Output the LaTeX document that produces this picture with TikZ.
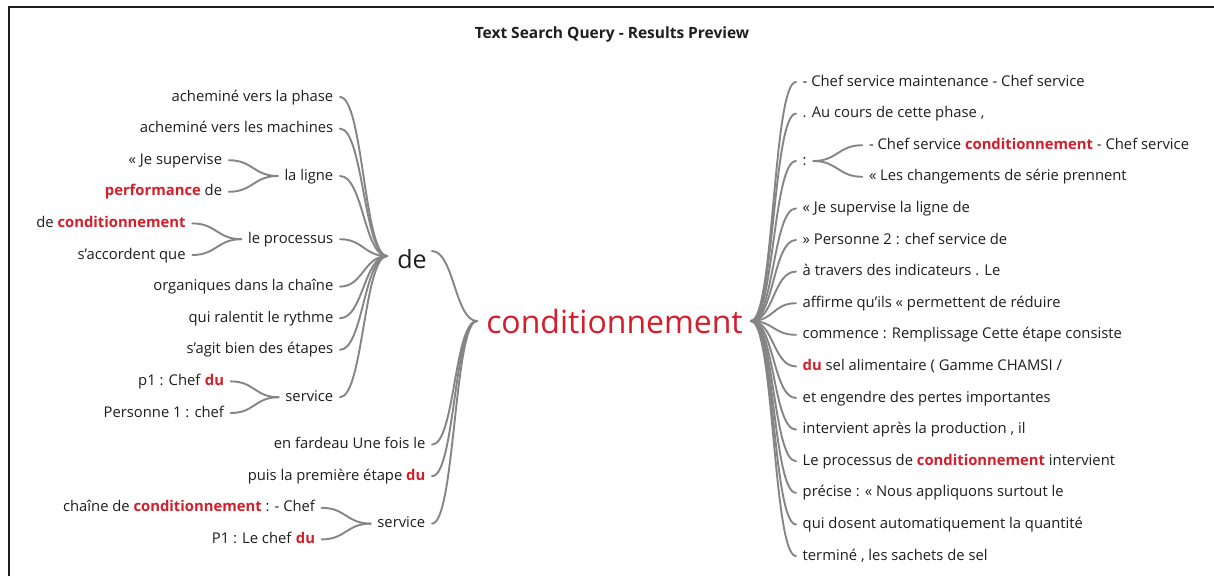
\documentclass[tikz,border=0pt]{standalone}
\usepackage{fontspec}
\setmainfont{Open Sans}
\usetikzlibrary{calc}
\definecolor{hit}{HTML}{D21F2B}
\definecolor{wire}{HTML}{858585}
\definecolor{ink}{HTML}{1E1E1E}
\newcommand{\hl}[1]{\textbf{\textcolor{hit}{#1}}}
% curved connector: horizontal tangents at both ends
\newcommand{\link}[3]{\draw[wirestyle] (#1) .. controls +(#3,0) and +(-#3,0) .. (#2);}

\begin{document}
\begin{tikzpicture}[x=1pt,y=-1pt,
  word/.style={font=\fontsize{14.8}{17}\selectfont, text=ink, inner xsep=6.5pt, inner ysep=0pt,
               text height=0.9em, text depth=0.1em},
  lword/.style={word, anchor=east},
  rword/.style={word, anchor=west},
  wirestyle/.style={draw=wire, line width=1.9pt, line cap=round},
]
\useasboundingbox (0,0) rectangle (1214,576);
\fill[white] (0,0) rectangle (1214,576);
\draw[ink, line width=1.3pt] (9,576) -- (9,7) -- (1214,7);

\node[font=\bfseries\fontsize{15.5}{18}\selectfont, text=ink] (title) at (612,34) {Text Search Query - Results Preview};

% root word
\node[font=\fontsize{32}{38}\selectfont, text=hit, inner sep=0pt, text height=0.75em, text depth=0.25em] (root) at (614.5,331) {conditionnement};
\coordinate (cL) at ($(root.west)+(-9,-10)$);
\coordinate (cR) at ($(root.east)+(8,-10)$);

% second level word
\node[font=\fontsize{25}{30}\selectfont, text=ink, inner sep=0pt, text height=0.75em, text depth=0.25em] (de) at (412,266) {de};
\coordinate (deL) at ($(de.west)+(-10,-10)$);
\coordinate (deR) at ($(de.east)+(5,-15)$);

% ---- left branches of "de"
\node[lword] (l1) at (340,97) {acheminé vers la phase};
\node[lword] (l2) at (340,128.6) {acheminé vers les machines};
\node[lword] (l3) at (340,176) {la ligne};
\node[lword] (l3a) at ($(l3.west)+(-49,-15.8)$) {« Je supervise};
\node[lword] (l3b) at ($(l3.west)+(-49,15.8)$) {\hl{performance} de};
\node[lword] (l4) at (340,239.2) {le processus};
\node[lword] (l4a) at ($(l4.west)+(-49,-15.8)$) {de \hl{conditionnement}};
\node[lword] (l4b) at ($(l4.west)+(-49,15.8)$) {s’accordent que};
\node[lword] (l5) at (340,286.6) {organiques dans la chaîne};
\node[lword] (l6) at (340,318.2) {qui ralentit le rythme};
\node[lword] (l7) at (340,349.8) {s’agit bien des étapes};
\node[lword] (l8) at (340,397.2) {service};
\node[lword] (l8a) at ($(l8.west)+(-48,-15.8)$) {p1 : Chef \hl{du}};
\node[lword] (l8b) at ($(l8.west)+(-48,15.8)$) {Personne 1 : chef};

% ---- left branches of the root
\node[lword] (m1) at (432,444.6) {en fardeau Une fois le};
\node[lword] (m2) at (432,476.2) {puis la première étape \hl{du}};
\node[lword] (m3) at (432,523.6) {service};
\node[lword] (m3a) at ($(m3.west)+(-49,-15.8)$) {chaîne de \hl{conditionnement} : - Chef};
\node[lword] (m3b) at ($(m3.west)+(-49,15.8)$) {P1 : Le chef \hl{du}};

% ---- right branches of the root
\node[rword] (r0) at (796,82) {- Chef service maintenance - Chef service};
\node[rword] (r1) at (796,113.6) {. Au cours de cette phase ,};
\node[rword] (rc) at (796,161) {:};
\node[rword] (rca) at ($(rc.east)+(49,-15.8)$) {- Chef service \hl{conditionnement} - Chef service};
\node[rword] (rcb) at ($(rc.east)+(49,15.8)$) {« Les changements de série prennent};
\node[rword] (r4) at (796,208.4) {« Je supervise la ligne de};
\node[rword] (r5) at (796,240) {» Personne 2 : chef service de};
\node[rword] (r6) at (796,271.6) {à travers des indicateurs . Le};
\node[rword] (r7) at (796,303.2) {affirme qu’ils « permettent de réduire};
\node[rword] (r8) at (796,334.8) {commence : Remplissage Cette étape consiste};
\node[rword] (r9) at (796,366.4) {\hl{du} sel alimentaire ( Gamme CHAMSI /};
\node[rword] (r10) at (796,398) {et engendre des pertes importantes};
\node[rword] (r11) at (796,429.6) {intervient après la production , il};
\node[rword] (r12) at (796,461.2) {Le processus de \hl{conditionnement} intervient};
\node[rword] (r13) at (796,492.8) {précise : « Nous appliquons surtout le};
\node[rword] (r14) at (796,524.4) {qui dosent automatiquement la quantité};
\node[rword] (r15) at (796,556) {terminé , les sachets de sel};

% ---- connectors
\foreach \n in {l1,l2,l3,l4,l5,l6,l7,l8} {\link{\n.east}{deL}{23}}
\foreach \n in {l3,l4,l8} {\link{\n a.east}{\n.west}{24}\link{\n b.east}{\n.west}{24}}
\link{deR}{cL}{22}
\foreach \n in {m1,m2,m3} {\link{\n.east}{cL}{23}}
\link{m3a.east}{m3.west}{24}
\link{m3b.east}{m3.west}{24}
\foreach \n in {r0,r1,rc,r4,r5,r6,r7,r8,r9,r10,r11,r12,r13,r14,r15} {\link{cR}{\n.west}{23}}
\link{rc.east}{rca.west}{24}
\link{rc.east}{rcb.west}{24}
\end{tikzpicture}
\end{document}
